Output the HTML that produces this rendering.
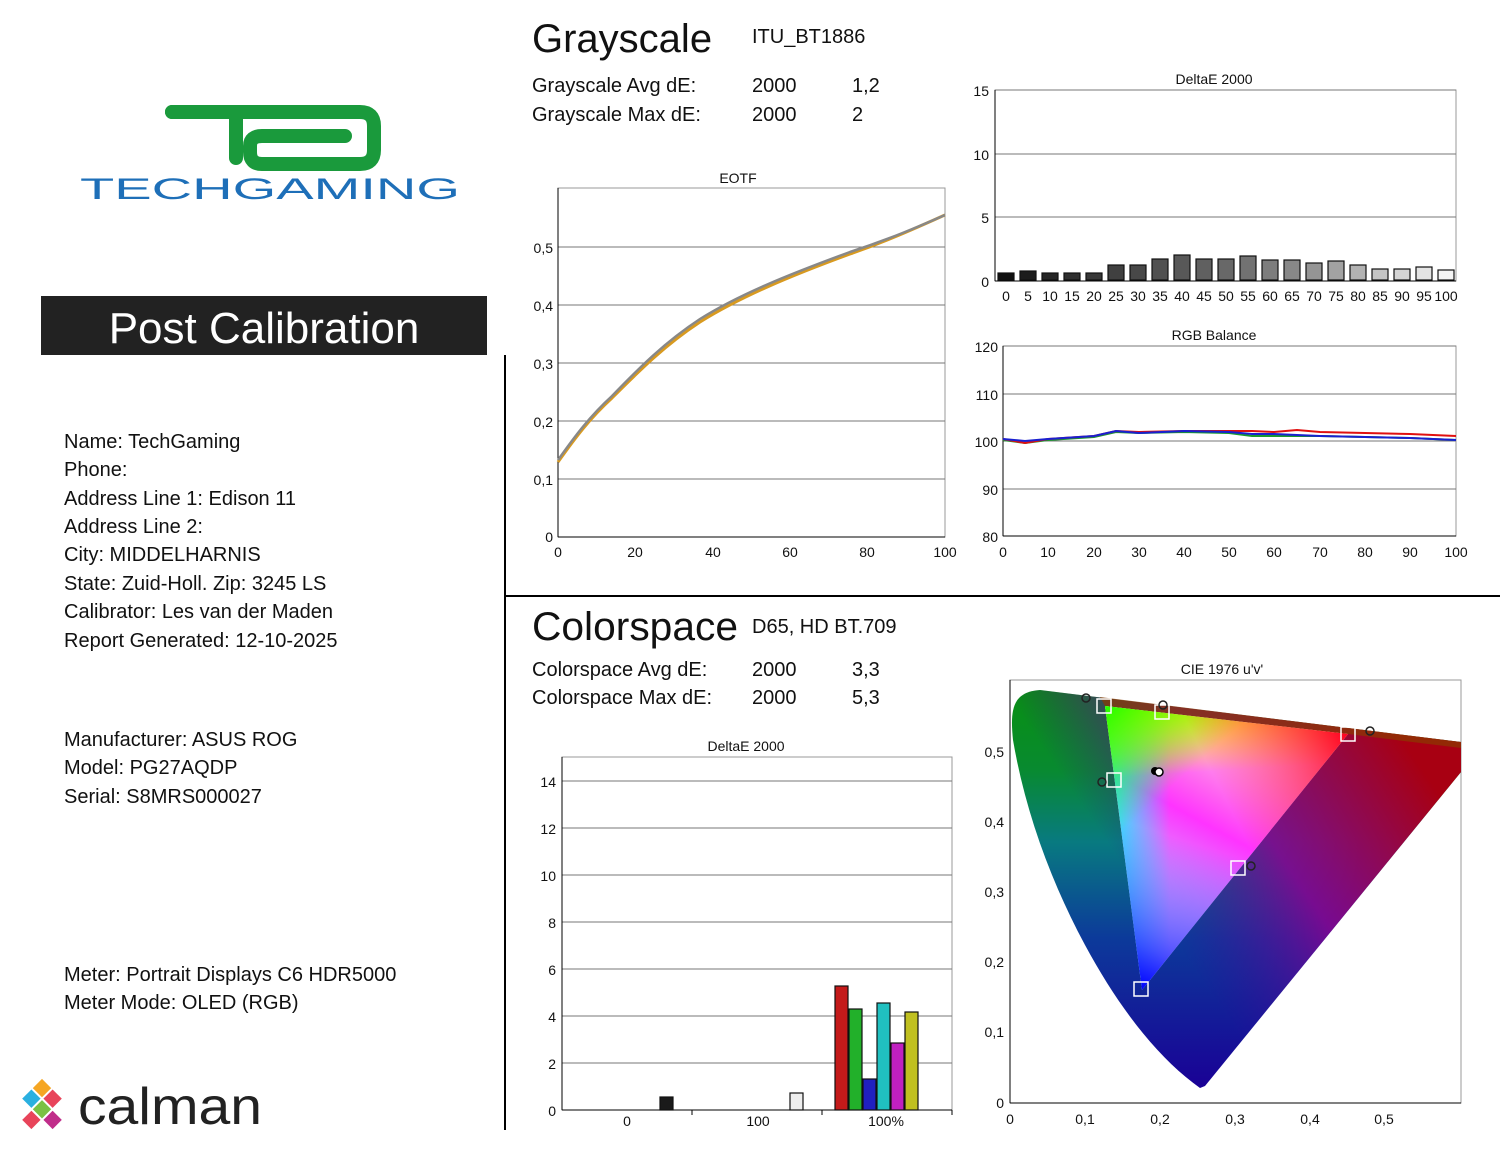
<!DOCTYPE html>
<html><head><meta charset="utf-8"><style>
body{margin:0;background:#fff}
svg{display:block;font-family:"Liberation Sans",sans-serif}
</style></head><body>
<svg width="1500" height="1159" viewBox="0 0 1500 1159" xmlns="http://www.w3.org/2000/svg">
<defs>
<linearGradient id="gv" x1="0" y1="690" x2="0" y2="1090" gradientUnits="userSpaceOnUse">
<stop offset="0" stop-color="#089012"/><stop offset="0.2" stop-color="#088a30"/><stop offset="0.38" stop-color="#087a80"/><stop offset="0.62" stop-color="#0c3a9a"/><stop offset="1" stop-color="#1a0096"/></linearGradient>
<linearGradient id="gr" x1="1180" y1="950" x2="1430" y2="780" gradientUnits="userSpaceOnUse">
<stop offset="0" stop-color="#40009a" stop-opacity="0"/><stop offset="0.45" stop-color="#8a0090" stop-opacity="0.85"/><stop offset="1" stop-color="#a80012"/></linearGradient>
<linearGradient id="tg" x1="1105" y1="706" x2="1245" y2="862" gradientUnits="userSpaceOnUse"><stop offset="0" stop-color="#20ff00"/><stop offset="0.5" stop-color="#40ff00" stop-opacity="0"/></linearGradient>
<linearGradient id="ty" x1="1165" y1="710" x2="1170" y2="790" gradientUnits="userSpaceOnUse"><stop offset="0" stop-color="#ffee00"/><stop offset="0.8" stop-color="#ffee00" stop-opacity="0"/></linearGradient>
<linearGradient id="tr" x1="1348" y1="734" x2="1123" y2="848" gradientUnits="userSpaceOnUse"><stop offset="0" stop-color="#ff0020"/><stop offset="0.55" stop-color="#ff0040" stop-opacity="0"/></linearGradient>
<linearGradient id="tb" x1="1142" y1="990" x2="1226" y2="720" gradientUnits="userSpaceOnUse"><stop offset="0" stop-color="#0000ff"/><stop offset="0.55" stop-color="#4040ff" stop-opacity="0"/></linearGradient>
<linearGradient id="tc" x1="1100" y1="780" x2="1170" y2="780" gradientUnits="userSpaceOnUse"><stop offset="0" stop-color="#00ffff"/><stop offset="1" stop-color="#00ffff" stop-opacity="0"/></linearGradient>
<linearGradient id="tm" x1="1300" y1="720" x2="1170" y2="960" gradientUnits="userSpaceOnUse"><stop offset="0" stop-color="#ff00a0" stop-opacity="0"/><stop offset="0.5" stop-color="#ff00ff" stop-opacity="0.8"/><stop offset="1" stop-color="#8000ff" stop-opacity="0"/></linearGradient>
</defs>

<!-- logo -->
<path d="M172 112 H360 Q374 112 374 126 V150 Q374 164 360 164 H262 Q250 164 250 152 V146 Q250 136 262 136 H345" fill="none" stroke="#1a9a3c" stroke-width="14" stroke-linecap="round"/>
<path d="M172 112 H240 M236 118 V158" fill="none" stroke="#1a9a3c" stroke-width="14" stroke-linecap="round"/>
<text x="80" y="199" font-size="30" fill="#1e6fb8" textLength="380" lengthAdjust="spacingAndGlyphs" transform="translate(0,0)">TECHGAMING</text>

<rect x="41" y="296" width="446" height="59" fill="#222"/>
<text x="264" y="343" text-anchor="middle" font-size="44" fill="#fff">Post Calibration</text>
<line x1="505" y1="355" x2="505" y2="1130" stroke="#000" stroke-width="2"/>
<line x1="505" y1="596" x2="1500" y2="596" stroke="#000" stroke-width="2"/>

<g font-size="20" fill="#111">
<text x="64" y="448">Name: TechGaming</text>
<text x="64" y="476">Phone:</text>
<text x="64" y="505">Address Line 1: Edison 11</text>
<text x="64" y="533">Address Line 2:</text>
<text x="64" y="561">City: MIDDELHARNIS</text>
<text x="64" y="590">State: Zuid-Holl.   Zip: 3245 LS</text>
<text x="64" y="618">Calibrator: Les van der Maden</text>
<text x="64" y="647">Report Generated: 12-10-2025</text>
<text x="64" y="746">Manufacturer: ASUS ROG</text>
<text x="64" y="774">Model: PG27AQDP</text>
<text x="64" y="803">Serial: S8MRS000027</text>
<text x="64" y="981">Meter: Portrait Displays C6 HDR5000</text>
<text x="64" y="1009">Meter Mode: OLED (RGB)</text>
</g>

<!-- calman logo -->
<g transform="translate(42,1110) rotate(45)">
<rect x="-22" y="-22" width="13" height="13" fill="#f5a623"/>
<rect x="-7" y="-22" width="13" height="13" fill="#e8445a"/>
<rect x="-22" y="-7" width="13" height="13" fill="#2ab0e0"/>
<rect x="-7" y="-7" width="13" height="13" fill="#7ac143"/>
<rect x="8" y="-7" width="13" height="13" fill="#c02d8a"/>
<rect x="-7" y="8" width="13" height="13" fill="#e8445a"/>
</g>
<text x="78" y="1124" font-size="52" fill="#222" textLength="184" lengthAdjust="spacingAndGlyphs">calman</text>

<g fill="#111">
<text x="532" y="52" font-size="40">Grayscale</text>
<text x="752" y="43" font-size="20">ITU_BT1886</text>
<text x="532" y="92" font-size="20">Grayscale Avg dE:</text>
<text x="752" y="92" font-size="20">2000</text><text x="852" y="92" font-size="20">1,2</text>
<text x="532" y="121" font-size="20">Grayscale Max dE:</text>
<text x="752" y="121" font-size="20">2000</text><text x="852" y="121" font-size="20">2</text>
<text x="532" y="640" font-size="40" textLength="206" lengthAdjust="spacingAndGlyphs">Colorspace</text>
<text x="752" y="633" font-size="20">D65, HD BT.709</text>
<text x="532" y="676" font-size="20">Colorspace Avg dE:</text>
<text x="752" y="676" font-size="20">2000</text><text x="852" y="676" font-size="20">3,3</text>
<text x="532" y="704" font-size="20">Colorspace Max dE:</text>
<text x="752" y="704" font-size="20">2000</text><text x="852" y="704" font-size="20">5,3</text>
</g>

<g font-size="14" fill="#111">
<!-- EOTF -->
<text x="738" y="183" text-anchor="middle">EOTF</text>
<rect x="558" y="188" width="387" height="349" fill="none" stroke="#999"/>
<g stroke="#777"><line x1="558" y1="247" x2="945" y2="247"/><line x1="558" y1="305" x2="945" y2="305"/><line x1="558" y1="363" x2="945" y2="363"/><line x1="558" y1="421" x2="945" y2="421"/><line x1="558" y1="479" x2="945" y2="479"/></g>
<line x1="558" y1="537" x2="945" y2="537" stroke="#000"/>
<line x1="558" y1="188" x2="558" y2="537" stroke="#000"/>
<text x="553" y="253" text-anchor="end">0,5</text><text x="553" y="311" text-anchor="end">0,4</text><text x="553" y="369" text-anchor="end">0,3</text><text x="553" y="427" text-anchor="end">0,2</text><text x="553" y="485" text-anchor="end">0,1</text><text x="553" y="542" text-anchor="end">0</text>
<text x="558" y="557" text-anchor="middle">0</text><text x="635" y="557" text-anchor="middle">20</text><text x="713" y="557" text-anchor="middle">40</text><text x="790" y="557" text-anchor="middle">60</text><text x="867" y="557" text-anchor="middle">80</text><text x="945" y="557" text-anchor="middle">100</text>
<path d="M558 462 C575 438 590 418 612 398 C640 370 665 345 700 322 C740 297 790 276 850 254 C890 240 920 226 945 215" fill="none" stroke="#d89a20" stroke-width="3"/>
<path d="M558 460 C575 436 590 416 612 396 C640 367 665 342 700 319 C740 294 790 274 850 252 C890 239 920 226 945 215" fill="none" stroke="#888" stroke-width="2.5"/>

<!-- DeltaE grayscale -->
<text x="1214" y="84" text-anchor="middle">DeltaE 2000</text>
<rect x="995" y="90" width="461" height="191" fill="none" stroke="#999"/>
<g stroke="#777"><line x1="995" y1="90" x2="1456" y2="90"/><line x1="995" y1="154" x2="1456" y2="154"/><line x1="995" y1="217" x2="1456" y2="217"/></g>
<line x1="995" y1="90" x2="995" y2="281" stroke="#000"/>
<line x1="995" y1="281" x2="1456" y2="281" stroke="#000"/>
<text x="989" y="96" text-anchor="end">15</text><text x="989" y="160" text-anchor="end">10</text><text x="989" y="223" text-anchor="end">5</text><text x="989" y="287" text-anchor="end">0</text>
<g stroke="#111" stroke-width="1.2">
<rect x="998" y="273" width="16" height="7" fill="#111"/>
<rect x="1020" y="271" width="16" height="9" fill="#1c1c1c"/>
<rect x="1042" y="273" width="16" height="7" fill="#262626"/>
<rect x="1064" y="273" width="16" height="7" fill="#303030"/>
<rect x="1086" y="273" width="16" height="7" fill="#383838"/>
<rect x="1108" y="265" width="16" height="15" fill="#404040"/>
<rect x="1130" y="265" width="16" height="15" fill="#484848"/>
<rect x="1152" y="259" width="16" height="21" fill="#505050"/>
<rect x="1174" y="255" width="16" height="25" fill="#585858"/>
<rect x="1196" y="259" width="16" height="21" fill="#606060"/>
<rect x="1218" y="259" width="16" height="21" fill="#686868"/>
<rect x="1240" y="256" width="16" height="24" fill="#727272"/>
<rect x="1262" y="260" width="16" height="20" fill="#7c7c7c"/>
<rect x="1284" y="260" width="16" height="20" fill="#888"/>
<rect x="1306" y="263" width="16" height="17" fill="#959595"/>
<rect x="1328" y="261" width="16" height="19" fill="#a2a2a2"/>
<rect x="1350" y="265" width="16" height="15" fill="#b2b2b2"/>
<rect x="1372" y="269" width="16" height="11" fill="#c4c4c4"/>
<rect x="1394" y="269" width="16" height="11" fill="#d4d4d4"/>
<rect x="1416" y="267" width="16" height="13" fill="#e4e4e4"/>
<rect x="1438" y="270" width="16" height="10" fill="#f4f4f4"/>
</g>
<g text-anchor="middle">
<text x="1006" y="301">0</text><text x="1028" y="301">5</text><text x="1050" y="301">10</text><text x="1072" y="301">15</text><text x="1094" y="301">20</text><text x="1116" y="301">25</text><text x="1138" y="301">30</text><text x="1160" y="301">35</text><text x="1182" y="301">40</text><text x="1204" y="301">45</text><text x="1226" y="301">50</text><text x="1248" y="301">55</text><text x="1270" y="301">60</text><text x="1292" y="301">65</text><text x="1314" y="301">70</text><text x="1336" y="301">75</text><text x="1358" y="301">80</text><text x="1380" y="301">85</text><text x="1402" y="301">90</text><text x="1424" y="301">95</text><text x="1446" y="301">100</text>
</g>

<!-- RGB balance -->
<text x="1214" y="340" text-anchor="middle">RGB Balance</text>
<rect x="1003" y="346" width="453" height="190" fill="none" stroke="#999"/>
<g stroke="#777"><line x1="1003" y1="346" x2="1456" y2="346"/><line x1="1003" y1="394" x2="1456" y2="394"/><line x1="1003" y1="441" x2="1456" y2="441"/><line x1="1003" y1="489" x2="1456" y2="489"/></g>
<line x1="1003" y1="346" x2="1003" y2="536" stroke="#000"/>
<line x1="1003" y1="536" x2="1456" y2="536" stroke="#000"/>
<text x="998" y="352" text-anchor="end">120</text><text x="998" y="400" text-anchor="end">110</text><text x="998" y="447" text-anchor="end">100</text><text x="998" y="495" text-anchor="end">90</text><text x="998" y="542" text-anchor="end">80</text>
<g text-anchor="middle"><text x="1003" y="557">0</text><text x="1048" y="557">10</text><text x="1094" y="557">20</text><text x="1139" y="557">30</text><text x="1184" y="557">40</text><text x="1229" y="557">50</text><text x="1274" y="557">60</text><text x="1320" y="557">70</text><text x="1365" y="557">80</text><text x="1410" y="557">90</text><text x="1456" y="557">100</text></g>
<polyline fill="none" stroke="#1a9a30" stroke-width="2" points="1003,440 1025,443 1048,440 1094,437 1116,432 1139,433 1184,432 1229,433 1252,436 1274,436 1320,436 1365,437 1410,438 1456,440"/>
<polyline fill="none" stroke="#e01010" stroke-width="2" points="1003,439 1025,443 1048,439 1094,436 1116,431 1139,432 1184,431 1229,431 1252,431 1274,432 1297,430 1320,432 1365,433 1410,434 1456,436"/>
<polyline fill="none" stroke="#1a20d0" stroke-width="2" points="1003,439 1025,441 1048,439 1094,436 1116,431 1139,433 1184,431 1229,432 1252,434 1274,434 1320,436 1365,437 1410,438 1456,440"/>

<!-- Colorspace DeltaE -->
<text x="746" y="751" text-anchor="middle">DeltaE 2000</text>
<rect x="562" y="757" width="390" height="353" fill="none" stroke="#999"/>
<g stroke="#777"><line x1="562" y1="781" x2="952" y2="781"/><line x1="562" y1="828" x2="952" y2="828"/><line x1="562" y1="875" x2="952" y2="875"/><line x1="562" y1="922" x2="952" y2="922"/><line x1="562" y1="969" x2="952" y2="969"/><line x1="562" y1="1016" x2="952" y2="1016"/><line x1="562" y1="1063" x2="952" y2="1063"/></g>
<line x1="562" y1="757" x2="562" y2="1110" stroke="#000"/>
<line x1="562" y1="1110" x2="952" y2="1110" stroke="#000"/>
<g stroke="#000"><line x1="692" y1="1110" x2="692" y2="1115"/><line x1="822" y1="1110" x2="822" y2="1115"/><line x1="952" y1="1110" x2="952" y2="1115"/></g>
<text x="556" y="787" text-anchor="end">14</text><text x="556" y="834" text-anchor="end">12</text><text x="556" y="881" text-anchor="end">10</text><text x="556" y="928" text-anchor="end">8</text><text x="556" y="975" text-anchor="end">6</text><text x="556" y="1022" text-anchor="end">4</text><text x="556" y="1069" text-anchor="end">2</text><text x="556" y="1116" text-anchor="end">0</text>
<text x="627" y="1126" text-anchor="middle">0</text><text x="758" y="1126" text-anchor="middle">100</text><text x="886" y="1126" text-anchor="middle">100%</text>
<g stroke="#111" stroke-width="1.2">
<rect x="660" y="1097" width="13" height="13" fill="#1a1a1a"/>
<rect x="790" y="1093" width="13" height="17" fill="#eee"/>
<rect x="835" y="986" width="13" height="124" fill="#c41a1a"/>
<rect x="849" y="1009" width="13" height="101" fill="#22b02a"/>
<rect x="863" y="1079" width="13" height="31" fill="#2020c0"/>
<rect x="877" y="1003" width="13" height="107" fill="#20c0c0"/>
<rect x="891" y="1043" width="13" height="67" fill="#c020c0"/>
<rect x="905" y="1012" width="13" height="98" fill="#c0c020"/>
</g>

<!-- CIE -->
<text x="1222" y="674" text-anchor="middle">CIE 1976 u'v'</text>
<rect x="1010" y="680" width="451" height="423" fill="none" stroke="#999"/>
<line x1="1010" y1="680" x2="1010" y2="1103" stroke="#000"/>
<line x1="1010" y1="1103" x2="1461" y2="1103" stroke="#000"/>
<text x="1004" y="757" text-anchor="end">0,5</text><text x="1004" y="827" text-anchor="end">0,4</text><text x="1004" y="897" text-anchor="end">0,3</text><text x="1004" y="967" text-anchor="end">0,2</text><text x="1004" y="1037" text-anchor="end">0,1</text><text x="1004" y="1108" text-anchor="end">0</text>
<g text-anchor="middle"><text x="1010" y="1124">0</text><text x="1085" y="1124">0,1</text><text x="1160" y="1124">0,2</text><text x="1235" y="1124">0,3</text><text x="1310" y="1124">0,4</text><text x="1384" y="1124">0,5</text></g>
<path d="M1200 1088 C1160 1060 1120 1010 1085 945 C1050 880 1025 810 1013 740 C1010 710 1012 692 1040 690 L1461 742 L1461 772 L1205 1086 Z" fill="url(#gv)"/>
<path d="M1200 1088 C1160 1060 1120 1010 1085 945 C1050 880 1025 810 1013 740 C1010 710 1012 692 1040 690 L1461 742 L1461 772 L1205 1086 Z" fill="url(#gr)"/>
<path d="M1100 697 L1461 742 L1461 748 L1348 734 L1105 706 Z" fill="#8a3a00" opacity="0.7"/>
<polygon points="1105,706 1348,734 1142,990" fill="#fff"/>
<polygon points="1105,706 1348,734 1142,990" fill="url(#tm)"/>
<polygon points="1105,706 1348,734 1142,990" fill="url(#tc)"/>
<polygon points="1105,706 1348,734 1142,990" fill="url(#ty)"/>
<polygon points="1105,706 1348,734 1142,990" fill="url(#tg)"/>
<polygon points="1105,706 1348,734 1142,990" fill="url(#tr)"/>
<polygon points="1105,706 1348,734 1142,990" fill="url(#tb)"/>
<g fill="none" stroke="#fff" stroke-width="1.5">
<rect x="1097" y="699" width="14" height="14"/><rect x="1155" y="705" width="14" height="14"/><rect x="1341" y="727" width="14" height="14"/><rect x="1107" y="773" width="14" height="14"/><rect x="1231" y="861" width="14" height="14"/><rect x="1134" y="982" width="14" height="14"/>
</g>
<g fill="none" stroke="#222" stroke-width="1.5">
<circle cx="1086" cy="698" r="4"/><circle cx="1163" cy="705" r="4"/><circle cx="1370" cy="731" r="4"/><circle cx="1102" cy="782" r="4"/><circle cx="1251" cy="866" r="4"/>
</g>
<circle cx="1155" cy="771" r="4" fill="#000"/><circle cx="1159" cy="772" r="4" fill="#fff" stroke="#000" stroke-width="1.5"/>
</g>
</svg>
</body></html>
